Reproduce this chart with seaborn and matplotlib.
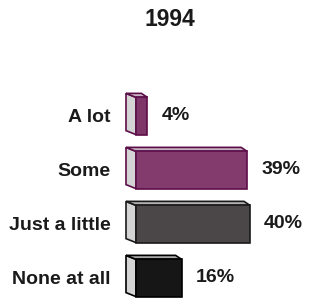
import numpy as np
import matplotlib
matplotlib.use('Agg')
import matplotlib.pyplot as plt
import seaborn as sns
from matplotlib.patches import Polygon

# data
title = '1994'
categories = ['A lot', 'Some', 'Just a little', 'None at all']
values = [4, 39, 40, 16]
face_colors = ['#8a2a6c', '#8e2f70', '#4b4749', '#161616']
edge_colors = ['#5c0e48', '#5c0e48', '#1a1a1a', '#000000']
top_colors = ['#c9b3c2', '#c4b0bf', '#b3b0b1', '#a8a8a8']

sns.set_theme(style='white')
plt.rcParams['font.family'] = ['Liberation Sans', 'DejaVu Sans']

fig = plt.figure(figsize=(3.10, 2.98), dpi=100)
# axes placed in figure pixels: left 120, right 310, top 80, bottom 298
ax = fig.add_axes([120 / 310, 0 / 298, 190 / 310, 218 / 298])

sns.barplot(x=values, y=categories, hue=categories, palette=face_colors,
            orient='h', width=0.69, legend=False, ax=ax, linewidth=1.2)

px_per_unit = 2.85
ax.set_xlim(-16 / px_per_unit, -16 / px_per_unit + 190 / px_per_unit)
ax.set_ylim(3 + 20 / 54, -36 / 54)

# 3d look: light side face on the left, thin top face
dx = -10 / px_per_unit
dy = -4 / 54
for i, p in enumerate(ax.patches):
    p.set_edgecolor(edge_colors[i])
    p.set_zorder(3)
    x0, y0 = p.get_x(), p.get_y()
    w, h = p.get_width(), p.get_height()
    side = Polygon([(x0, y0), (x0, y0 + h), (x0 + dx, y0 + h + dy), (x0 + dx, y0 + dy)],
                   closed=True, facecolor='#d4d4d4', edgecolor=edge_colors[i],
                   linewidth=1.2, zorder=2)
    top = Polygon([(x0, y0), (x0 + w, y0), (x0 + w + dx * 0.6, y0 + dy), (x0 + dx, y0 + dy)],
                  closed=True, facecolor=top_colors[i], edgecolor=edge_colors[i],
                  linewidth=1.2, zorder=2)
    ax.add_patch(side)
    ax.add_patch(top)
    ax.annotate('{}%'.format(values[i]), xy=(x0 + w, y0 + h / 2), xytext=(10, 0),
                textcoords='offset points', ha='left', va='center',
                fontsize=14, fontweight='bold', color='#1a1a1a')

sns.despine(ax=ax, left=True, bottom=True)
ax.set_xticks([])
ax.set_xlabel('')
ax.set_ylabel('')
ax.tick_params(axis='y', length=0, pad=7)
for lbl in ax.get_yticklabels():
    lbl.set_fontsize(14)
    lbl.set_fontweight('bold')
    lbl.set_color('#1a1a1a')

fig.text(170 / 310, 1 - 20 / 298, title, ha='center', va='center',
         fontsize=16.5, fontweight='bold', color='#1a1a1a')

fig.savefig('out.png', dpi=100, facecolor='white')
